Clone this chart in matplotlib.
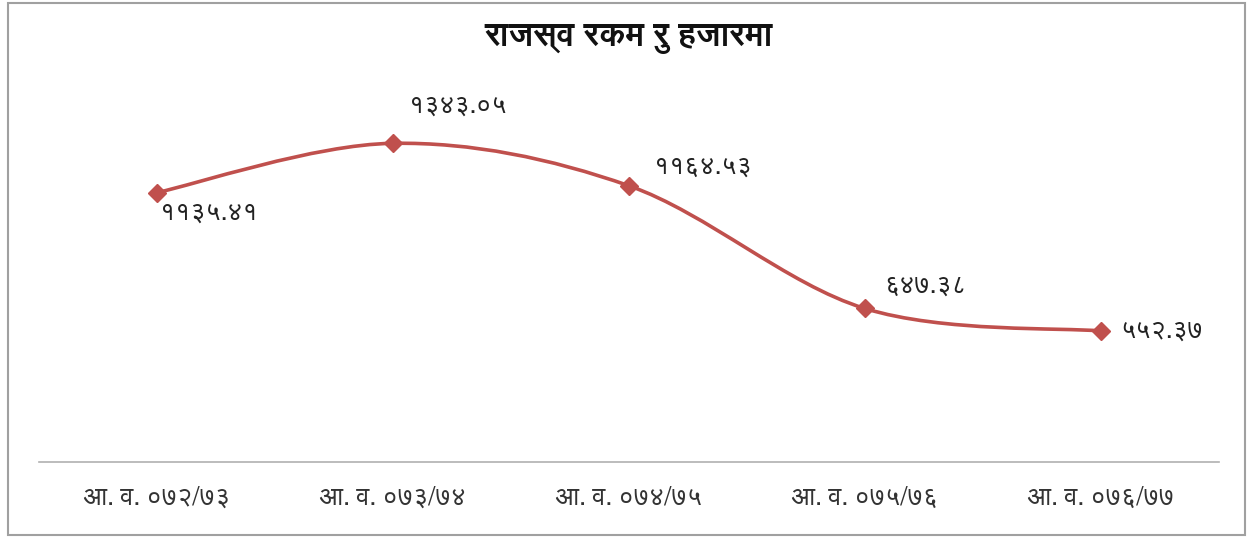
import matplotlib
matplotlib.use('Agg')
import matplotlib.pyplot as plt
from matplotlib.path import Path
from matplotlib.patches import PathPatch, Rectangle

# Data
years = ['आ. व. ०७२/७३', 'आ. व. ०७३/७४', 'आ. व. ०७४/७५', 'आ. व. ०७५/७६', 'आ. व. ०७६/७७']
revenue = [1135.41, 1343.05, 1164.53, 647.38, 552.37]
value_labels = ['११३५.४१', '१३४३.०५', '११६४.५३', '६४७.३८', '५५२.३७']
title = 'राजस्व रकम रु हजारमा'

LINE_COLOR = '#C0504D'

# FreeSans is the installed font that shapes the Devanagari conjuncts properly
plt.rcParams['font.family'] = ['FreeSans', 'DejaVu Sans']

fig = plt.figure(figsize=(12.5, 5.38), dpi=100)
ax = fig.add_axes([0.031, 0.141, 0.944, 0.706])

x = list(range(len(revenue)))

# smoothed line through the points (bezier segments, like a spreadsheet "smooth line")
verts = [(x[0], revenue[0])]
codes = [Path.MOVETO]
n = len(x)
for i in range(n - 1):
    p0 = (x[max(i - 1, 0)], revenue[max(i - 1, 0)])
    p1 = (x[i], revenue[i])
    p2 = (x[i + 1], revenue[i + 1])
    p3 = (x[min(i + 2, n - 1)], revenue[min(i + 2, n - 1)])
    c1 = (p1[0] + (p2[0] - p0[0]) / 6, p1[1] + (p2[1] - p0[1]) / 6)
    c2 = (p2[0] - (p3[0] - p1[0]) / 6, p2[1] - (p3[1] - p1[1]) / 6)
    verts += [c1, c2, p2]
    codes += [Path.CURVE4] * 3
ax.add_patch(PathPatch(Path(verts, codes), facecolor='none', edgecolor=LINE_COLOR, lw=2.6, zorder=2))
ax.plot(x, revenue, linestyle='none', marker='D', markersize=9, color=LINE_COLOR, zorder=3)

# data labels
offsets = [(2, -15), (12, 27), (18, 13), (14, 16), (14, 0)]
for xi, yi, lab, off in zip(x, revenue, value_labels, offsets):
    ax.annotate(lab, (xi, yi), xytext=off, textcoords='offset points',
                ha='left', va='center', fontsize=19, color='#222222')

ax.set_xlim(-0.5, 4.5)
ax.set_ylim(0, 1600)
ax.set_xticks(x)
ax.set_xticklabels(years, fontsize=19, color='#333333')
ax.tick_params(axis='x', length=0, pad=17)
ax.set_yticks([])
for s in ['top', 'right', 'left']:
    ax.spines[s].set_visible(False)
ax.spines['bottom'].set_color('#b0b0b0')
ax.spines['bottom'].set_linewidth(1.2)

fig.text(0.503, 0.928, title, ha='center', va='center', fontsize=24, fontweight='bold', color='#111111')

# outer chart border
fig.patches.append(Rectangle((0.006, 0.005), 0.99, 0.99, transform=fig.transFigure,
                             fill=False, edgecolor='#a0a0a0', lw=1.5))

fig.savefig('out.png', dpi=100)
